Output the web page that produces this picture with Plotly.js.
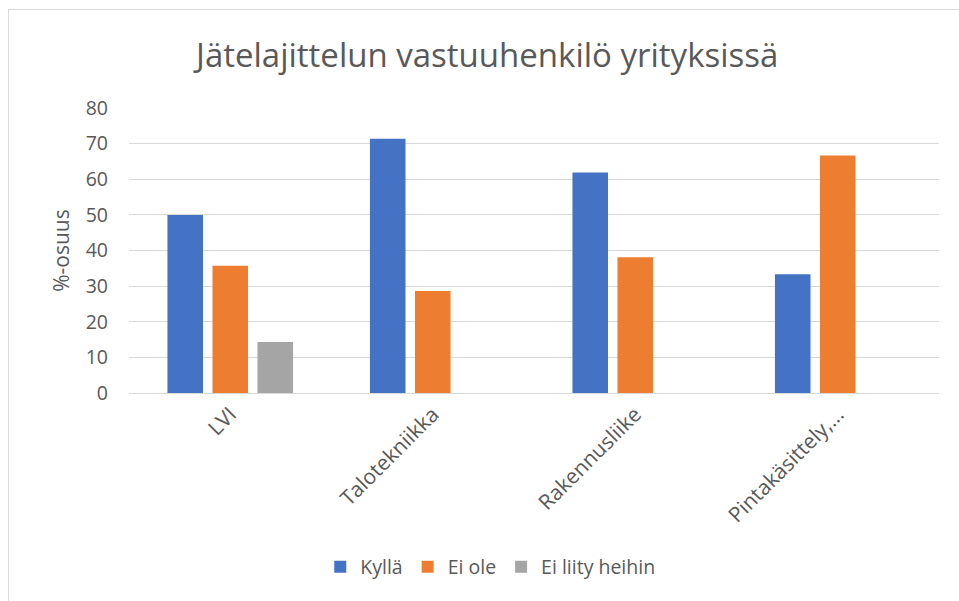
<!DOCTYPE html>
<html>
<head>
<meta charset="utf-8">
<script src="https://cdn.plot.ly/plotly-3.0.1.min.js"></script>
<style>
  html, body { margin: 0; padding: 0; background: #fff; }
  #frame { position: absolute; left: 8px; top: 9px; width: 980px; height: 620px;
           border-left: 1px solid #d9d9d9; border-top: 1px solid #d9d9d9; }
  #chart { position: absolute; left: 0; top: 0; width: 959px; height: 601px; }
</style>
</head>
<body>
<div id="frame"></div>
<div id="chart"></div>
<script>
const categories = ["LVI", "Talotekniikka", "Rakennusliike", "Pintakäsittely,..."];
const seriesNames = ["Kyllä", "Ei ole", "Ei liity heihin"];
const kylla = [50, 71.4, 61.9, 33.3];
const eiOle = [35.7, 28.6, 38.1, 66.7];
const eiLiity = [14.3, 0, 0, 0];
const yTicks = [0, 10, 20, 30, 40, 50, 60, 70, 80];
const colors = ["#4472C4", "#ED7D31", "#A5A5A5"];

const textColor = "#595959";
const fontFam = "Open Sans, Noto Sans, sans-serif";

const traces = [kylla, eiOle, eiLiity].map((vals, i) => ({
  type: "bar",
  name: seriesNames[i],
  x: categories,
  y: vals,
  marker: { color: colors[i], line: { width: 0 } },
  hoverinfo: "x+y+name"
}));

const layout = {
  width: 959, height: 601,
  paper_bgcolor: "rgba(0,0,0,0)",
  plot_bgcolor: "rgba(0,0,0,0)",
  margin: { l: 129, r: 20, t: 108, b: 208 },
  barmode: "group",
  bargap: 0.333,
  bargroupgap: 0.21,
  font: { family: fontFam, color: textColor, size: 19 },
  title: {
    text: "Jätelajittelun vastuuhenkilö yrityksissä",
    font: { family: fontFam, size: 33, color: textColor },
    x: 0.508, xanchor: "center", xref: "container",
    y: 1 - 55 / 601, yref: "container", yanchor: "middle"
  },
  xaxis: {
    type: "category",
    tickangle: -45,
    showgrid: false,
    showline: false,
    zeroline: false,
    ticks: "",
    ticklabelstandoff: 4,
    tickfont: { family: fontFam, size: 21, color: textColor }
  },
  yaxis: {
    range: [0, 80],
    tickvals: yTicks,
    ticktext: yTicks.map(String),
    showgrid: true,
    gridcolor: "#d9d9d9",
    gridwidth: 1,
    zeroline: true,
    zerolinecolor: "#d9d9d9",
    zerolinewidth: 1,
    showline: false,
    ticks: "",
    ticklabelstandoff: 20,
    tickfont: { family: fontFam, size: 19.5, color: textColor },
    title: { text: "%-osuus", font: { family: fontFam, size: 21, color: textColor }, standoff: 10 }
  },
  showlegend: true,
  legend: {
    orientation: "h",
    x: 0.446, xanchor: "center",
    y: (393 - 567) / 285, yanchor: "middle",
    font: { family: fontFam, size: 19.5, color: textColor },
    itemwidth: 30,
    traceorder: "normal"
  }
};

Plotly.newPlot("chart", traces, layout, { displayModeBar: false });
</script>
</body>
</html>
